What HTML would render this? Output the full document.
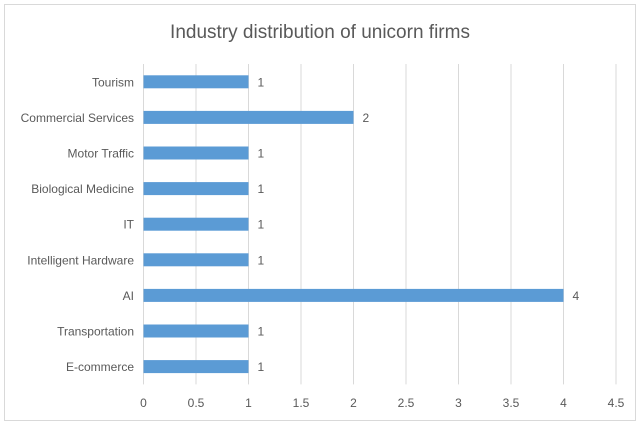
<!DOCTYPE html>
<html><head><meta charset="utf-8"><style>
body{margin:0;background:#fff}
svg text{font-family:"Liberation Sans",sans-serif;fill:#595959}
</style></head><body>
<svg width="640" height="426" viewBox="0 0 640 426" xmlns="http://www.w3.org/2000/svg">
<rect x="4.5" y="4.5" width="631" height="416" fill="#fff" stroke="#d9d9d9"/>
<text x="320" y="38" text-anchor="middle" font-size="19">Industry distribution of unicorn firms</text>
<g id="grid"></g><g id="bars"></g>
</svg>
<script>
const categories=["Tourism","Commercial Services","Motor Traffic","Biological Medicine","IT","Intelligent Hardware","AI","Transportation","E-commerce"];
const values=[1,2,1,1,1,1,4,1,1];
const ticks=[0,0.5,1,1.5,2,2.5,3,3.5,4,4.5];
const x0=143.5,ppu=105,plotTop=64,band=35.6;
const xs=v=>x0+v*ppu, yc=i=>plotTop+band*(i+0.5);
const NS="http://www.w3.org/2000/svg";
const g=document.getElementById('grid'),b=document.getElementById('bars');
function mk(t,a,p){const e=document.createElementNS(NS,t);for(const k in a)e.setAttribute(k,a[k]);p.appendChild(e);return e;}
ticks.forEach(t=>{
 const l=mk('line',{x1:xs(t),x2:xs(t),y1:plotTop,y2:plotTop+band*categories.length,stroke:'#d9d9d9'},g);
 
 
 const tx=mk('text',{x:xs(t),y:407,'text-anchor':'middle','font-size':12},g);
 
 
 tx.textContent=t;
});
categories.forEach((c,i)=>{
 const r=mk('rect',{x:xs(0),y:yc(i)-6.5,width:xs(values[i])-xs(0),height:13,fill:'#5b9bd5'},b);
 
 
 const lb=mk('text',{x:134,y:yc(i)+4.5,'text-anchor':'end','font-size':12},b);
 
 
 lb.textContent=c;
 const v=mk('text',{x:xs(values[i])+9,y:yc(i)+4.5,'font-size':12},b);
 
 
 v.textContent=values[i];
});
</script>
</body></html>
